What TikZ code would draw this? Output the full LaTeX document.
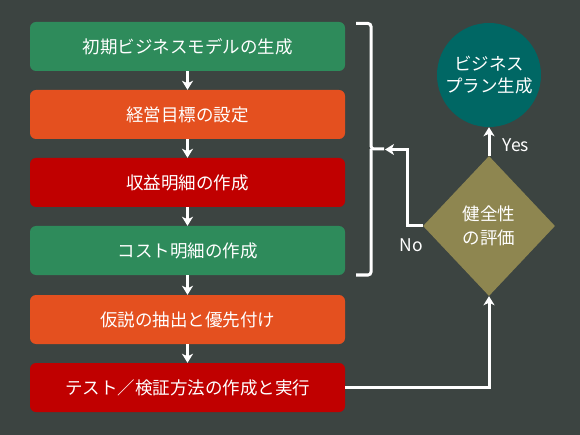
\documentclass[tikz,border=0pt]{standalone}
\usepackage{fontspec}
\setmainfont{Noto Sans CJK JP}
\usetikzlibrary{shapes.geometric,arrows.meta}
\definecolor{bgc}{HTML}{3C4441}
\definecolor{cgreen}{HTML}{2E8B5B}
\definecolor{corange}{HTML}{E4501F}
\definecolor{cred}{HTML}{C00000}
\definecolor{cteal}{HTML}{006764}
\definecolor{colive}{HTML}{8E8650}
\tikzset{
  stepbox/.style={rounded corners=6pt, minimum width=315pt, minimum height=49pt, inner sep=0pt, text=white, font=\fontsize{17.5}{20}\selectfont},
  arr/.style={draw=white, line width=3pt, -{Stealth[width=11pt,length=9pt,inset=2.5pt]}},
  brack/.style={draw=white, line width=3pt, rounded corners=3pt},
  lbl/.style={text=white, font=\fontsize{17.5}{20}\selectfont},
}
\begin{document}
\begin{tikzpicture}[x=1pt,y=-1pt]
\fill[bgc] (0,0) rectangle (580,435);
\useasboundingbox (0,0) rectangle (580,435);
\node[stepbox, fill=cgreen]  (b1) at (187.5,46.5) {初期ビジネスモデルの生成};
\node[stepbox, fill=corange] (b2) at (187.5,114.5) {経営目標の設定};
\node[stepbox, fill=cred]    (b3) at (187.5,182.5) {収益明細の作成};
\node[stepbox, fill=cgreen]  (b4) at (187.5,250.5) {コスト明細の作成};
\node[stepbox, fill=corange] (b5) at (187.5,319.5) {仮説の抽出と優先付け};
\node[stepbox, fill=cred]    (b6) at (187.5,387.5) {テスト／検証方法の作成と実行};
\foreach \a/\b in {b1/b2,b2/b3,b3/b4,b4/b5,b5/b6}
  \draw[arr] (\a.south) -- (\b.north);
\node[diamond, fill=colive, minimum width=132pt, minimum height=140pt, inner sep=0pt, align=center, lbl, font=\fontsize{17.5}{24}\selectfont] (dia) at (489,226) {健全性\\の評価};
\node[circle, fill=cteal, minimum size=104pt, inner sep=0pt, align=center, lbl, font=\fontsize{17.5}{22}\selectfont] (circ) at (489,75) {ビジネス\\プラン生成};
% bracket
\coordinate (btop) at (356,23.5);
\coordinate (bbot) at (356,275);
\coordinate (bmid) at (371,149);
\coordinate (btip) at (384,149);
\draw[brack] (btop) -| (bmid) -- (btip);
\draw[brack] (bbot) -| (bmid);
% connectors
\coordinate (nox) at (407,0);
\coordinate (brk) at (385,149.5);
\draw[arr, rounded corners=0pt] (dia.west) -- (dia.west -| nox) |- (brk);
\draw[arr] (dia.north) -- (circ.south);
\draw[arr] (b6.east) -| (dia.south);
\node[lbl, anchor=west] (yes) at (499,145) {Yes};
\node[lbl, anchor=center] (no) at (411,245) {No};
\end{tikzpicture}
\end{document}
